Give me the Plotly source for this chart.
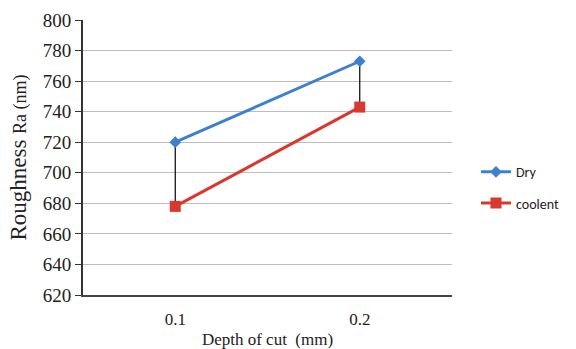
import plotly.graph_objects as go

depth = ["0.1", "0.2"]
dry = [720, 773]
coolent = [678, 743]
y_ticks = [620, 640, 660, 680, 700, 720, 740, 760, 780, 800]

fig = go.Figure()

# high-low connector lines
for i, d in enumerate(depth):
    fig.add_trace(go.Scatter(
        x=[d, d], y=[dry[i], coolent[i]], mode="lines",
        line=dict(color="black", width=1.2), showlegend=False, hoverinfo="skip"))

fig.add_trace(go.Scatter(
    x=depth, y=dry, mode="lines+markers", name="Dry", legendgroup="a",
    line=dict(color="#3F7FD0", width=3),
    marker=dict(symbol="diamond", size=9, color="#3F7FD0")))
fig.add_trace(go.Scatter(
    x=depth, y=coolent, mode="lines+markers", name="coolent", legendgroup="b",
    line=dict(color="#D8382F", width=3),
    marker=dict(symbol="square", size=11, color="#D8382F")))

serif = "Liberation Serif, Times New Roman, serif"

fig.update_layout(
    width=576, height=349,
    margin=dict(l=83, r=118, t=20, b=54),
    paper_bgcolor="white", plot_bgcolor="white",
    font=dict(family=serif, color="#222222", size=17),
    xaxis=dict(
        type="category", range=[-0.5, 1.5], showgrid=False, automargin=False,
        showline=True, linecolor="#444444", linewidth=1.5,
        ticks="outside", ticklen=8, tickcolor="rgba(0,0,0,0)",
        tickfont=dict(family=serif, size=17, color="#222222"),
        title=dict(text="Depth of cut  (mm)", standoff=10,
                   font=dict(family=serif, size=17, color="#222222")),
        zeroline=False,
    ),
    yaxis=dict(
        range=[620, 800], tickvals=y_ticks, automargin=False,
        showgrid=True, gridcolor="#BDBDBD", gridwidth=1.2,
        showline=True, linecolor="#333333", linewidth=2,
        ticks="outside", ticklen=6, tickcolor="#333333",
        tickfont=dict(family=serif, size=19, color="#222222"),
        title=dict(text="Roughness <span style='font-size:18px'>Ra (nm)</span>", standoff=10,
                   font=dict(family=serif, size=23, color="#222222")),
        zeroline=False,
    ),
    legend=dict(
        x=1.065, xanchor="left", y=0.39, yanchor="middle",
        font=dict(family="Carlito, Liberation Sans, sans-serif", size=14, color="#222222"),
        bgcolor="rgba(0,0,0,0)", traceorder="grouped", tracegroupgap=10, itemwidth=30,
    ),
)

fig.write_html("out.html")
